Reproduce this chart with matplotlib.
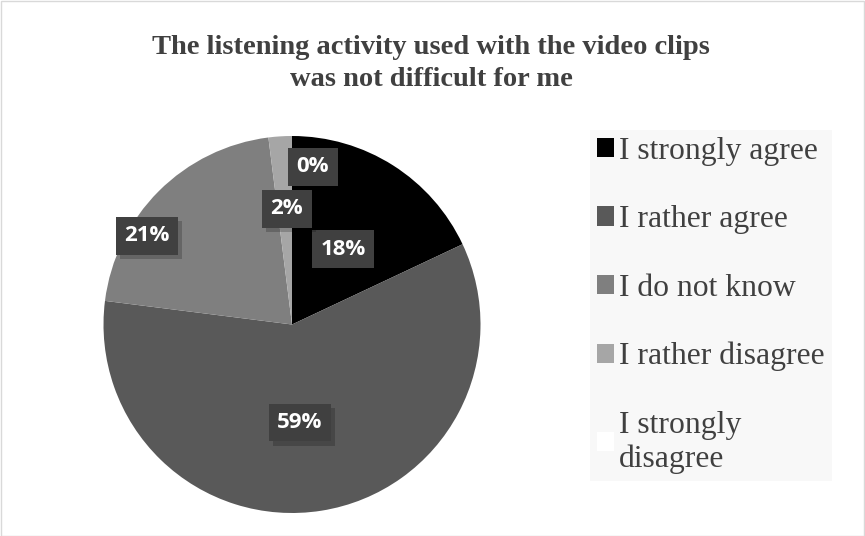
import matplotlib
matplotlib.use("Agg")
import matplotlib.pyplot as plt
import matplotlib.patheffects as pe
from matplotlib.patches import Rectangle, Patch

title = "The listening activity used with the video clips\nwas not difficult for me"
categories = ["I strongly agree", "I rather agree", "I do not know",
              "I rather disagree", "I strongly\ndisagree"]
values = [18, 59, 21, 2, 0]
labels = ["18%", "59%", "21%", "2%", "0%"]

colors = ["#000000", "#595959", "#7f7f7f", "#a6a6a6", "#ffffff"]
# label anchor positions (style) in pie data units
label_pos = [(0.27, 0.40), (0.042, -0.52), (-0.77, 0.47), (-0.027, 0.615), (0.111, 0.836)]

W, H = 865, 536
fig = plt.figure(figsize=(W / 100, H / 100), dpi=100)
fig.patch.set_facecolor("white")
fig.add_artist(Rectangle((0.5 / W, 0.5 / H), 1 - 1.5 / W, 1 - 1.5 / H, transform=fig.transFigure,
                         fill=False, edgecolor="#d9d9d9", linewidth=1))

cx, cy, r = 292, 324.5, 188.5
ax = fig.add_axes([(cx - r) / W, (H - cy - r) / H, 2 * r / W, 2 * r / H])
wedges, _ = ax.pie(values, colors=colors, startangle=90, counterclock=False, radius=1,
                   wedgeprops=dict(linewidth=0))
ax.set_xlim(-1, 1)
ax.set_ylim(-1, 1)
ax.set_aspect("equal")
ax.axis("off")

fs = 16
for lab, (x, y) in zip(labels, label_pos):
    t = ax.text(x, y, lab, ha="center", va="center", fontsize=fs, fontweight="bold",
                family=["Open Sans", "DejaVu Sans"], color="white",
                bbox=dict(boxstyle="square,pad=0.38", facecolor="#404040", edgecolor="none"))
    t.get_bbox_patch().set_path_effects([pe.withSimplePatchShadow(offset=(3, -3), shadow_rgbFace="black", alpha=0.2),
                                         pe.Normal()])

fig.text(431 / W, 1 - 63.5 / H, title, ha="center", va="center", fontsize=20.5, fontweight="bold",
         family=["Liberation Serif"], color="#404040", linespacing=1.38)

handles = [Patch(facecolor=c, edgecolor="none") for c in colors]
leg = fig.legend(handles, categories, loc="upper left", bbox_to_anchor=(590 / W, 1 - 130 / H),
                 frameon=True, prop=dict(family="Liberation Serif", size=22.8),
                 labelcolor="#404040", handlelength=0.55, handleheight=0.55, handletextpad=0.15,
                 labelspacing=1.24, borderpad=0.22, borderaxespad=0, fancybox=False)
leg.get_frame().set_facecolor("#f8f8f8")
leg.get_frame().set_edgecolor("none")
leg.get_frame().set_alpha(1)

fig.savefig("out.png", dpi=100, facecolor="white")
